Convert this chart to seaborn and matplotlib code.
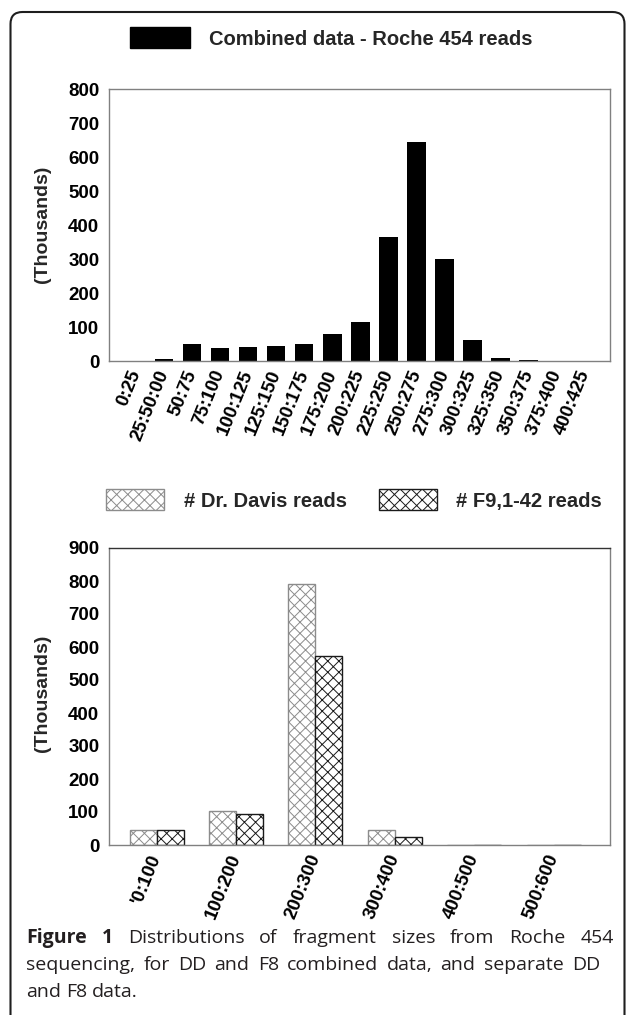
import matplotlib
matplotlib.use("Agg")
import matplotlib.pyplot as plt
import seaborn as sns
import pandas as pd
from matplotlib.patches import Patch, FancyBboxPatch
from matplotlib.transforms import IdentityTransform

# Combined data (thousands of reads)
combined_bins = ["0:25", "25:50:00", "50:75", "75:100", "100:125", "125:150", "150:175",
                 "175:200", "200:225", "225:250", "250:275", "275:300", "300:325",
                 "325:350", "350:375", "375:400", "400:425"]
combined_reads = [1, 6, 49, 39, 41, 43, 51, 79, 115, 366, 645, 299, 61, 10, 2, 1, 1]

# Separate data (thousands of reads)
split_bins = ["'0:100", "100:200", "200:300", "300:400", "400:500", "500:600"]
davis_reads = [45, 102, 790, 44, 0, 0]
f9_reads = [45, 94, 573, 24, 0, 0]
series_names = ["# Dr. Davis reads", "# F9,1-42 reads"]

sns.set_theme(style="white")
plt.rcParams["font.family"] = ["Liberation Sans", "DejaVu Sans"]
plt.rcParams["hatch.linewidth"] = 0.7

W, H = 627, 1015
fig = plt.figure(figsize=(W / 100, H / 100), dpi=100)

def style_axes(ax):
    for s in ax.spines.values():
        s.set_visible(True)
        s.set_color("#808080")
        s.set_linewidth(1.0)
    ax.tick_params(axis="both", direction="in", length=7, width=1, color="#808080",
                   labelsize=13.5, pad=7, labelcolor="black")
    for lab in ax.get_yticklabels():
        lab.set_fontweight("bold")
    for lab in ax.get_xticklabels():
        lab.set_fontweight("bold")
        lab.set_rotation(68)
        lab.set_ha("right")
        lab.set_va("center")
        lab.set_rotation_mode("anchor")
    ax.set_xlabel("")
    ax.set_ylabel("(Thousands)", fontsize=14, fontweight="bold")

# top chart
ax1 = fig.add_axes([109 / W, 1 - 361 / H, 501 / W, 272 / H])
sns.barplot(x=combined_bins, y=combined_reads, color="black", saturation=1,
            width=0.66, linewidth=0, ax=ax1)
ax1.set_xlim(-0.96, 16.9)
ax1.set_ylim(0, 800)
ax1.set_yticks(range(0, 801, 100))
style_axes(ax1)
ax1.yaxis.set_label_coords(-0.116, 0.504)

# bottom chart
df = pd.DataFrame({
    "bin": split_bins * 2,
    "reads": davis_reads + f9_reads,
    "series": [series_names[0]] * len(split_bins) + [series_names[1]] * len(split_bins),
})
ax2 = fig.add_axes([109 / W, 1 - 845 / H, 501 / W, 297 / H])
sns.barplot(data=df, x="bin", y="reads", hue="series", palette=["white", "white"],
            saturation=1, width=0.68, legend=False, ax=ax2)
edge_cols = ["#8c8c8c", "#1a1a1a"]
for cont, ec in zip(ax2.containers, edge_cols):
    for bar in cont:
        bar.set_hatch("xxx")
        bar.set_edgecolor(ec)
        bar.set_linewidth(1)
ax2.set_xlim(-0.6, 5.71)
ax2.set_ylim(0, 900)
ax2.set_yticks(range(0, 901, 100))
style_axes(ax2)
ax2.spines["top"].set_color("#333333")
ax2.yaxis.set_label_coords(-0.116, 0.512)

# legends
fig.legend(handles=[Patch(facecolor="black", edgecolor="black")],
           labels=["Combined data - Roche 454 reads"],
           loc="center left", bbox_to_anchor=(130 / W, 1 - 38 / H), frameon=False,
           prop={"weight": "bold", "size": 14.5}, handlelength=3.0, handleheight=1.2,
           handletextpad=0.9, borderpad=0, borderaxespad=0)
fig.legend(handles=[Patch(facecolor="white", edgecolor=edge_cols[0], hatch="xxx"),
                    Patch(facecolor="white", edgecolor=edge_cols[1], hatch="xxx")],
           labels=series_names, ncol=2,
           loc="center left", bbox_to_anchor=(106 / W, 1 - 500 / H), frameon=False,
           prop={"weight": "bold", "size": 14.5}, handlelength=2.9, handleheight=1.2,
           handletextpad=0.95, columnspacing=1.6, borderpad=0, borderaxespad=0)

# outer frame
frame = FancyBboxPatch((10.5, -30), 614, H - 12 + 30, boxstyle="round,pad=0,rounding_size=12",
                       transform=IdentityTransform(), facecolor="none", edgecolor="#1e1e1e",
                       linewidth=1.5)
fig.add_artist(frame)

# caption
renderer = fig.canvas.get_renderer()
cap_size = 14
cap_col = "#231f20"

def caption_line(words, y_img, x0, x1=None):
    texts = []
    for w, weight in words:
        t = fig.text(0, H - y_img, w, transform=IdentityTransform(), fontsize=cap_size,
                     fontweight=weight, family="Open Sans", color=cap_col, va="baseline")
        texts.append(t)
    widths = [t.get_window_extent(renderer).width for t in texts]
    if x1 is None:
        gap = cap_size * 100 / 72 * 0.26
    else:
        gap = (x1 - x0 - sum(widths)) / (len(texts) - 1)
    x = x0
    for t, w in zip(texts, widths):
        t.set_x(x)
        x += w + gap

line1 = [("Figure", "bold"), ("1", "bold")] + [(w, "normal") for w in
         "Distributions of fragment sizes from Roche 454".split()]
line2 = [(w, "normal") for w in "sequencing, for DD and F8 combined data, and separate DD".split()]
line3 = [(w, "normal") for w in "and F8 data.".split()]
caption_line(line1, 943, 26, 614)
caption_line(line2, 970, 26, 600)
caption_line(line3, 997, 26)

fig.savefig("out.png", dpi=100)
